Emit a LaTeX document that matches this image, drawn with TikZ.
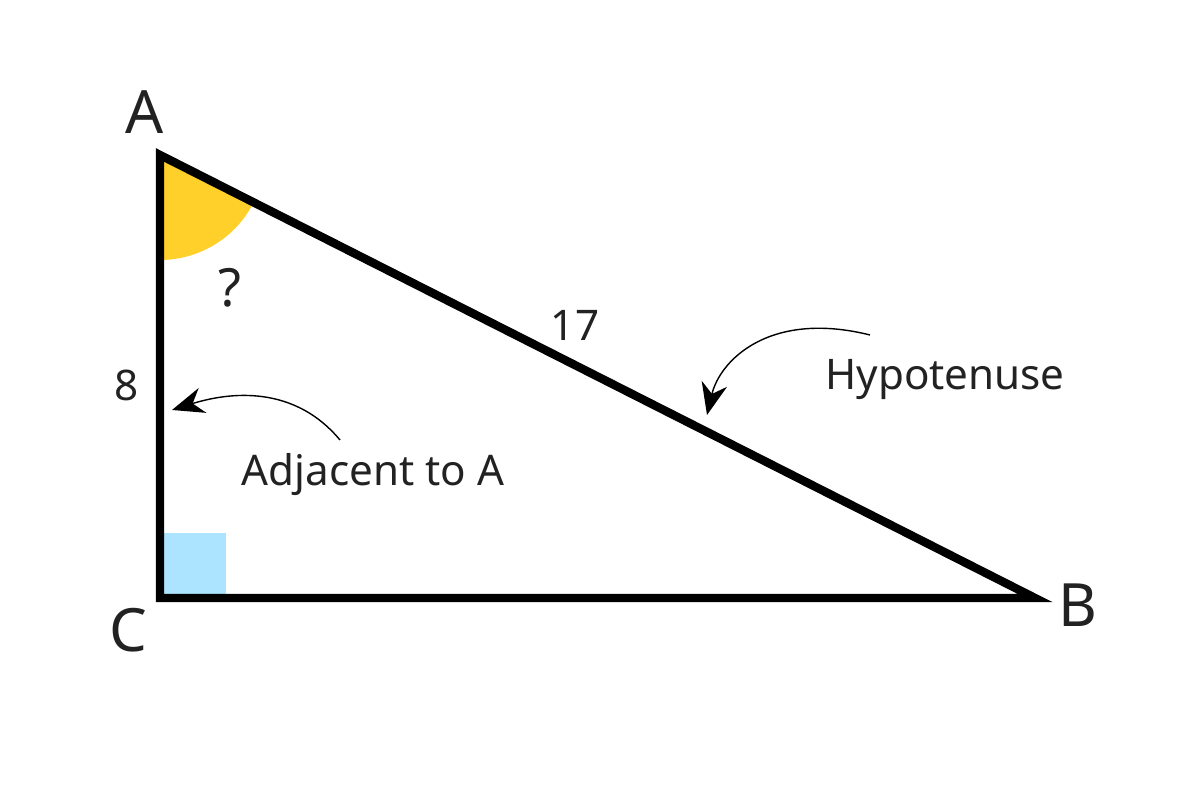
\documentclass[tikz,border=0pt]{standalone}
\usepackage{fontspec}
\setmainfont{Noto Sans}
\usetikzlibrary{arrows.meta}
\definecolor{angleyellow}{HTML}{FFD02A}
\definecolor{rightblue}{HTML}{ACE3FF}
\definecolor{inkgray}{HTML}{222222}
\tikzset{
  vertex/.style={font=\fontsize{17}{20}\selectfont\bfseries,text=inkgray},
  lbl/.style={font=\fontsize{12}{14}\selectfont,text=inkgray},
  pointer/.style={-{Stealth[length=3.2mm,width=2.6mm]},thin,black}
}
\begin{document}
\begin{tikzpicture}
        \useasboundingbox (0,0) rectangle (12,8);
        % corners of the triangle
        \coordinate (A) at (1.6,6.45);
        \coordinate (C) at (1.6,2.02);
        \coordinate (B) at (10.35,2.02);

        % marked angle and right angle
        \fill[angleyellow] (A) -- ++(-90:1.05) arc[start angle=-90,end angle=-26.9,radius=1.05] -- cycle;
        \fill[rightblue] (1.62,2.05) rectangle (2.26,2.67);

        % triangle
        \draw[line width=2.4pt,line join=miter] (A) -- (C) -- (B) -- cycle;

        % vertex names
        \node[vertex] (nA) at (1.45,6.88) {A};
        \node[vertex] (nB) at (10.78,1.95) {B};
        \node[vertex] (nC) at (1.28,1.70) {C};

        % side lengths and the unknown angle
        \node[vertex,font=\fontsize{15}{18}\selectfont\bfseries] (q) at (2.3,5.12) {?};
        \node[lbl] (side17) at (5.75,4.75) {17};
        \node[lbl] (side8) at (1.27,4.15) {8};

        % annotations
        \node[lbl] (hyp) at (9.45,4.2) {Hypotenuse};
        \node[lbl] (adj) at (3.73,3.25) {Adjacent to A};
        \coordinate (hypTip) at (7.07,3.85);
        \coordinate (adjTip) at (1.72,3.9);
        \draw[pointer] (8.7,4.65) .. controls (7.7,4.9) and (7.2,4.4) .. (hypTip);
        \draw[pointer] (3.4,3.6) .. controls (2.9,4.2) and (2.2,4.05) .. (adjTip);
\end{tikzpicture}
\end{document}
